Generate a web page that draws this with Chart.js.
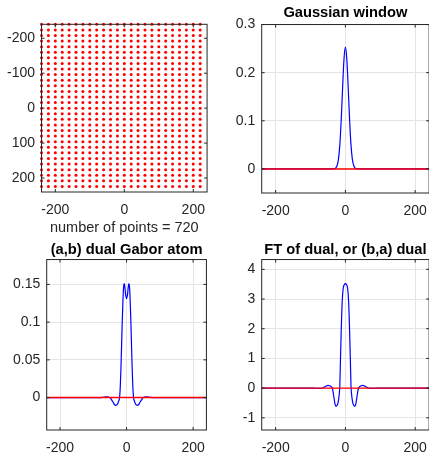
<!DOCTYPE html>
<html>
<head>
<meta charset="utf-8">
<script src="https://cdn.jsdelivr.net/npm/chart.js@4.4.0/dist/chart.umd.min.js"></script>
<style>
  html, body { margin: 0; padding: 0; background: #fff; }
  body { position: relative; width: 429px; height: 452px; overflow: hidden; }
  canvas { position: absolute; }
</style>
</head>
<body>
<canvas id="lattice" width="215" height="240" style="left:0;top:0"></canvas>
<canvas id="gauss" width="222" height="240" style="left:215px;top:0"></canvas>
<canvas id="dual" width="215" height="216" style="left:0;top:236px"></canvas>
<canvas id="dualFt" width="222" height="216" style="left:215px;top:236px"></canvas>
<script>
// time-frequency lattice: a = 20 along time, b = 16 along frequency
const latticeX = [-240, -220, -200, -180, -160, -140, -120, -100, -80, -60, -40, -20,
  0, 20, 40, 60, 80, 100, 120, 140, 160, 180, 200, 220];
const latticeY = [-240, -224, -208, -192, -176, -160, -144, -128, -112, -96, -80, -64, -48, -32, -16,
  0, 16, 32, 48, 64, 80, 96, 112, 128, 144, 160, 176, 192, 208, 224];

// gaussian window (real part)
const gaussX = [-240, -40, -36, -32, -28, -24, -20, -16, -12, -8, -4, 0, 4, 8, 12, 16, 20, 24, 28, 32, 36, 40, 240];
const gaussY = [0, 0, 0.0001, 0.0004, 0.0018, 0.0066, 0.020, 0.050, 0.102, 0.169, 0.229, 0.253,
  0.229, 0.169, 0.102, 0.050, 0.020, 0.0066, 0.0018, 0.0004, 0.0001, 0, 0];

// dual gabor atom (real part)
const dualX = [-240, -80, -70, -60, -50, -45, -40, -36, -33, -30, -27, -24, -21, -19, -17, -15, -13, -11, -9, -7, -5, -3,
  0, 3, 5, 7, 9, 11, 13, 15, 17, 19, 21, 24, 27, 30, 33, 36, 40, 45, 50, 60, 70, 80, 240];
const dualY = [0, 0, 0.0004, 0.0008, 0, -0.003, -0.0065, -0.0095, -0.0103, -0.0100, -0.0085, -0.005, 0.000, 0.013, 0.037,
  0.068, 0.100, 0.127, 0.146, 0.151, 0.146, 0.137, 0.131, 0.137, 0.146, 0.151, 0.146, 0.127, 0.100, 0.068, 0.037, 0.013,
  0.000, -0.005, -0.0085, -0.0100, -0.0103, -0.0095, -0.0065, -0.003, 0, 0.0008, 0.0004, 0, 0];

// FT of the dual atom (real part)
const ftX = [-240, -90, -80, -72, -66, -60, -55, -50, -45, -40, -37, -35, -33, -31, -29, -27, -25, -22, -20, -18, -16,
  -14, -12, -10, -8, -6, -3, 0, 3, 6, 8, 10, 12, 14, 16, 18, 20, 22, 25, 27, 29, 31, 33, 35, 37, 40, 45, 50, 55, 60,
  66, 72, 80, 90, 240];
const ftY = [0, 0, -0.01, -0.01, 0.005, 0.035, 0.07, 0.09, 0.08, 0.04, -0.02, -0.15, -0.30, -0.45, -0.57, -0.61, -0.60,
  -0.53, -0.42, -0.24, 0.08, 1.05, 1.95, 2.70, 3.15, 3.38, 3.49, 3.52, 3.49, 3.38, 3.15, 2.70, 1.95, 1.05, 0.08, -0.24,
  -0.42, -0.53, -0.60, -0.61, -0.57, -0.45, -0.30, -0.15, -0.02, 0.04, 0.08, 0.09, 0.07, 0.035, 0.005, -0.01, -0.01, 0, 0];

// imaginary parts are zero everywhere
const imagX = [-240, 240];
const imagY = [0, 0];

// axis limits and tick values
const xRange = [-240, 240];
const xTicks = [-200, 0, 200];
const latticeYTicks = [-200, -100, 0, 100, 200];
const gaussRange = [-0.05, 0.3];
const gaussTicks = [0, 0.1, 0.2, 0.3];
const dualRange = [-0.043, 0.183];
const dualTicks = [0, 0.05, 0.1, 0.15];
const ftRange = [-1.41, 4.33];
const ftTicks = [-1, 0, 1, 2, 3, 4];

const FONT = '"Liberation Sans", Arial, Helvetica, sans-serif';
Chart.defaults.font.family = FONT;
Chart.defaults.font.size = 14;
Chart.defaults.color = '#262626';

const pts = (xs, ys) => xs.map((x, i) => ({ x: x, y: ys[i] }));

// box round the axes with inward tick marks on all four sides
const axesBox = {
  id: 'axesBox',
  afterDatasetsDraw(chart) {
    const { ctx, chartArea: a, scales: { x, y } } = chart;
    const len = 3;
    ctx.save();
    ctx.strokeStyle = '#262626';
    ctx.lineWidth = 1;
    ctx.strokeRect(a.left, a.top, a.width, a.height);
    ctx.beginPath();
    x.ticks.forEach(t => {
      const px = x.getPixelForValue(t.value);
      ctx.moveTo(px, a.bottom); ctx.lineTo(px, a.bottom - len);
      ctx.moveTo(px, a.top); ctx.lineTo(px, a.top + len);
    });
    y.ticks.forEach(t => {
      const py = y.getPixelForValue(t.value);
      ctx.moveTo(a.left, py); ctx.lineTo(a.left + len, py);
      ctx.moveTo(a.right, py); ctx.lineTo(a.right - len, py);
    });
    ctx.stroke();
    ctx.restore();
  }
};

function axis(range, ticks, size, opts) {
  const o = opts || {};
  const horizontal = o.horizontal;
  return {
    type: 'linear',
    min: range[0],
    max: range[1],
    reverse: !!o.reverse,
    grid: { display: o.grid !== false, color: '#e4e4e4', drawTicks: false },
    border: { display: false },
    title: o.title || { display: false },
    ticks: { padding: horizontal ? 9.5 : 6.5, callback: v => String(v) },
    afterBuildTicks: s => { s.ticks = ticks.map(v => ({ value: v })); },
    afterFit: s => { if (s.isHorizontal()) s.height = size; else s.width = size; }
  };
}

function titleOpts(text, top, bottom) {
  return {
    display: true, text: text, fullSize: false,
    color: '#000', font: { size: 14.7, weight: 'bold' },
    padding: { top: top, bottom: bottom }
  };
}

function signalChart(id, title, tPad, xs, ys, yRange, yTicks, xHeight) {
  new Chart(document.getElementById(id), {
    type: 'line',
    data: {
      datasets: [
        { data: pts(imagX, imagY), borderColor: '#ff0000', borderWidth: 1.4, pointRadius: 0, order: 0 },
        { data: pts(xs, ys), borderColor: '#0000ff', borderWidth: 1.2, pointRadius: 0, order: 1,
          cubicInterpolationMode: 'monotone' }
      ]
    },
    options: {
      responsive: false, animation: false, events: [],
      layout: { padding: { right: 7.3 } },
      plugins: { legend: { display: false }, tooltip: { enabled: false }, title: titleOpts(title, tPad[0], tPad[1]) },
      scales: {
        x: axis(xRange, xTicks, xHeight, { horizontal: true }),
        y: axis(yRange, yTicks, 46.7)
      }
    },
    plugins: [axesBox]
  });
}

// lattice of sampling points
const latticePoints = [];
latticeY.forEach(yv => latticeX.forEach(xv => latticePoints.push({ x: xv, y: yv })));

new Chart(document.getElementById('lattice'), {
  type: 'scatter',
  data: {
    datasets: [{ data: latticePoints, pointRadius: 1.5, pointBorderWidth: 0,
      pointBackgroundColor: '#ff0000', clip: false }]
  },
  options: {
    responsive: false, animation: false, events: [],
    layout: { padding: { top: 24.3, right: 6.5 } },
    plugins: { legend: { display: false }, tooltip: { enabled: false } },
    scales: {
      x: axis(xRange, xTicks, 48, {
        horizontal: true, grid: false,
        title: { display: true, text: 'number of points = ' + latticePoints.length,
          font: { size: 14.5 }, padding: { top: 0, bottom: 3.6 } }
      }),
      y: axis(xRange, latticeYTicks, 41.5, { reverse: true, grid: false })
    }
  },
  plugins: [axesBox]
});

signalChart('gauss', 'Gaussian window', [4.1, 2.8], gaussX, gaussY, gaussRange, gaussTicks, 47);
signalChart('dual', '(a,b) dual Gabor atom', [5.3, 0.6], dualX, dualY, dualRange, dualTicks, 22);
signalChart('dualFt', 'FT of dual, or (b,a) dual', [5.3, 0.6], ftX, ftY, ftRange, ftTicks, 22);
</script>
</body>
</html>
